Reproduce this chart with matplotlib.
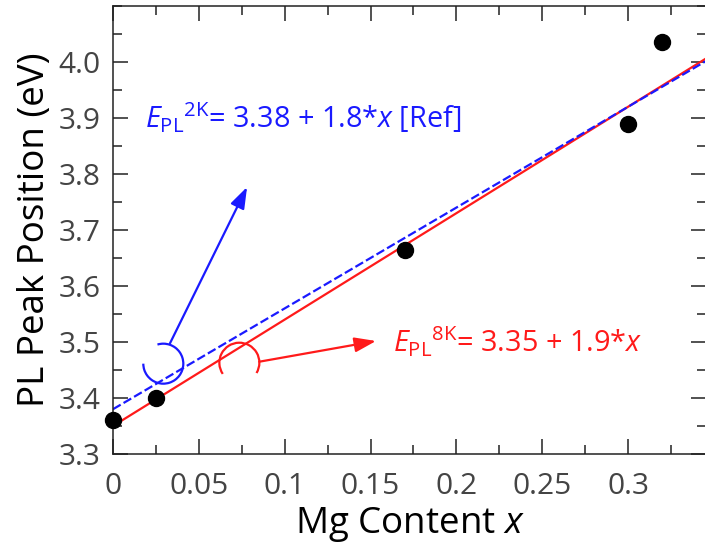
import matplotlib
matplotlib.use("Agg")
import matplotlib.pyplot as plt
import numpy as np
from matplotlib.patches import Arc, FancyArrowPatch
from matplotlib.transforms import ScaledTranslation
from matplotlib.ticker import MultipleLocator

plt.rcParams['font.family'] = ['Open Sans', 'DejaVu Sans']
plt.rcParams['mathtext.fontset'] = 'custom'
plt.rcParams['mathtext.rm'] = 'Open Sans'
plt.rcParams['mathtext.it'] = 'Open Sans:italic'

# Measured PL peak positions
mg_content = [0.0, 0.025, 0.17, 0.30, 0.32]
pl_peak = [3.36, 3.40, 3.665, 3.89, 4.035]

# Linear fits: E = a + b*x
fit_8k = (3.35, 1.9)
fit_2k = (3.38, 1.8)

x_ticks = [0, 0.05, 0.1, 0.15, 0.2, 0.25, 0.3]
x_tick_labels = ["0", "0.05", "0.1", "0.15", "0.2", "0.25", "0.3"]
y_ticks = [3.3, 3.4, 3.5, 3.6, 3.7, 3.8, 3.9, 4.0]
y_tick_labels = ["3.3", "3.4", "3.5", "3.6", "3.7", "3.8", "3.9", "4.0"]

fig = plt.figure(figsize=(7.05, 5.45), dpi=100)
ax = fig.add_axes([113 / 705, 1 - 454 / 545, (706 - 113) / 705, 448 / 545])

xmax = 0.3454
ax.set_xlim(0, xmax)
ax.set_ylim(3.3, 4.1)

xs = np.array([0.0, xmax])
ax.plot(xs, fit_8k[0] + fit_8k[1] * xs, color='#ff1a1a', lw=1.6, zorder=2)
ax.plot(xs, fit_2k[0] + fit_2k[1] * xs, color='#1a1aff', lw=1.6,
        dashes=(4.0, 1.5), zorder=2)
ax.plot(mg_content, pl_peak, 'o', color='black', ms=11.5, zorder=3,
        clip_on=False)

ax.set_xticks(x_ticks)
ax.set_xticklabels(x_tick_labels)
ax.set_yticks(y_ticks)
ax.set_yticklabels(y_tick_labels)
ax.xaxis.set_minor_locator(MultipleLocator(0.025))
ax.yaxis.set_minor_locator(MultipleLocator(0.05))
ax.tick_params(which='both', direction='in', top=True, right=True,
               color='#222222', width=1.1, labelsize=21.5,
               labelcolor='#444444')
ax.tick_params(which='major', length=10.5)
ax.tick_params(which='minor', length=6.5)
ax.tick_params(axis='x', pad=13)
ax.tick_params(axis='y', pad=9)
for sp in ax.spines.values():
    sp.set_linewidth(1.1)
    sp.set_color('#222222')

ax.set_xlabel('Mg Content $\\mathit{x}$', fontsize=26.5, labelpad=3)
ax.set_ylabel('PL Peak Position (eV)', fontsize=26.5, labelpad=4)

# Equation labels
ax.text(0.0186, 3.90,
        '$\\mathit{E}_{\\mathrm{PL}}{}^{\\mathrm{2K}}$= 3.38 + 1.8*$\\mathit{x}$ [Ref]',
        color='#1a1aff', fontsize=20.8, ha='left', va='center')
ax.text(0.1631, 3.50,
        '$\\mathit{E}_{\\mathrm{PL}}{}^{\\mathrm{8K}}$= 3.35 + 1.9*$\\mathit{x}$',
        color='#ff1a1a', fontsize=20.8, ha='left', va='center')

# Open circles marking each fit line, with arrows to the labels
def ring(cx, cy, t1, t2, color):
    tr = fig.dpi_scale_trans + ScaledTranslation(cx, cy, ax.transData)
    ax.add_patch(Arc((0, 0), 0.40, 0.40, theta1=t1, theta2=t2,
                     transform=tr, color=color, lw=1.6, zorder=4))

ring(0.0293, 3.4613, -180, 107, '#1a1aff')
ring(0.0736, 3.4630, -31, 214, '#ff1a1a')

for (x0, y0), (x1, y1), c in [((0.0332, 3.4977), (0.0781, 3.7768), '#1a1aff'),
                              ((0.0852, 3.4648), (0.1532, 3.5018), '#ff1a1a')]:
    ax.add_patch(FancyArrowPatch((x0, y0), (x1, y1),
                                 arrowstyle='-|>,head_length=13,head_width=4.5',
                                 mutation_scale=1, color=c, lw=1.6,
                                 shrinkA=0, shrinkB=0, zorder=4))

fig.savefig('out.png', dpi=100)
